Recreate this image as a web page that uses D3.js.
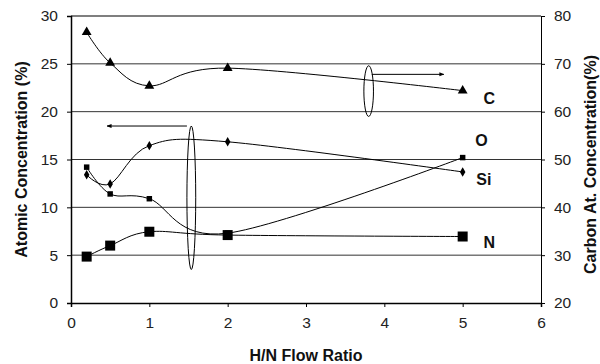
<!DOCTYPE html>
<html>
<head>
<meta charset="utf-8">
<title>H/N Flow Ratio</title>
<style>
  body { margin: 0; background: #fff; font-family: Arial, "Liberation Sans", sans-serif; }
  .tick text { font-size: 15.5px; fill: #222; font-family: Arial, "Liberation Sans", sans-serif; }
  .title { font-size: 16px; font-weight: bold; fill: #111; }
  .lbl { font-size: 16px; font-weight: bold; fill: #111; }
</style>
</head>
<body>
<svg id="chart" width="600" height="364"></svg>
<script src="https://d3js.org/d3.v7.min.js"></script>
<script>
// data
const ratios = [0.2, 0.5, 1, 2, 5];
const carbon = [76.6, 70.2, 65.4, 69.1, 64.4];   // right axis
const oxygen = [14.2, 11.4, 10.9, 7.3, 15.2];
const silicon = [13.4, 12.45, 16.45, 16.85, 13.7];
const nitrogen = [4.85, 6.0, 7.45, 7.1, 6.95];
const leftTicks = [0, 5, 10, 15, 20, 25, 30];
const rightTicks = [20, 30, 40, 50, 60, 70, 80];
const xTicks = [0, 1, 2, 3, 4, 5, 6];

const svg = d3.select("#chart");
const m = { left: 71, right: 541, top: 16, bottom: 303 };

const x = d3.scaleLinear().domain([0, 6]).range([m.left, m.right]);
const yL = d3.scaleLinear().domain([0, 30]).range([m.bottom, m.top]);
const yR = d3.scaleLinear().domain([20, 80]).range([m.bottom, m.top]);

// gridlines
svg.append("g").selectAll("line")
  .data(leftTicks.slice(1))
  .join("line")
  .attr("x1", m.left).attr("x2", m.right)
  .attr("y1", d => yL(d)).attr("y2", d => yL(d))
  .attr("stroke", d => d === 30 ? "#555" : "#333")
  .attr("stroke-width", d => d === 30 ? 1.5 : 1);

// axes
svg.append("g")
  .attr("transform", `translate(0,${m.bottom})`)
  .call(d3.axisBottom(x).tickValues(xTicks).tickFormat(d3.format("d")).tickSize(4).tickPadding(10))
  .call(g => g.select(".domain").attr("stroke", "#000").attr("stroke-width", 1.5));
svg.append("g")
  .attr("transform", `translate(${m.left},0)`)
  .call(d3.axisLeft(yL).tickValues(leftTicks).tickSize(4).tickPadding(9))
  .call(g => g.select(".domain").attr("stroke", "#000").attr("stroke-width", 1.5));
svg.append("g")
  .attr("transform", `translate(${m.right},0)`)
  .call(d3.axisRight(yR).tickValues(rightTicks).tickSize(4).tickPadding(9))
  .call(g => g.select(".domain").attr("stroke", "#000").attr("stroke-width", 1));
svg.selectAll(".tick line").attr("stroke", "#000");
svg.selectAll(".tick text").attr("fill", "#222");

// titles
svg.append("text").attr("class", "title")
  .attr("x", (m.left + m.right) / 2).attr("y", 361)
  .attr("text-anchor", "middle").text("H/N Flow Ratio");
svg.append("text").attr("class", "title")
  .attr("transform", `translate(27,${(m.top + m.bottom) / 2}) rotate(-90)`)
  .attr("text-anchor", "middle").text("Atomic Concentration (%)");
svg.append("text").attr("class", "title")
  .attr("transform", `translate(596,${(m.top + m.bottom) / 2 + 5}) rotate(-90)`)
  .attr("text-anchor", "middle").text("Carbon At. Concentration(%)");

// series
const series = [
  { vals: carbon, y: yR, sym: d3.symbolTriangle, size: 42 },
  { vals: oxygen, y: yL, sym: d3.symbolSquare, size: 30 },
  { vals: silicon, y: yL, sym: d3.symbolDiamond, size: 26 },
  { vals: nitrogen, y: yL, sym: d3.symbolSquare, size: 100 }
];

series.forEach(s => {
  const pts = ratios.map((r, i) => [x(r), s.y(s.vals[i])]);
  svg.append("path")
    .attr("d", d3.line().curve(d3.curveCardinal.tension(0))(pts))
    .attr("fill", "none").attr("stroke", "#000").attr("stroke-width", 1);
  svg.append("g").selectAll("path")
    .data(pts)
    .join("path")
    .attr("transform", d => `translate(${d[0]},${d[1]})`)
    .attr("d", d3.symbol().type(s.sym).size(s.size))
    .attr("fill", "#000");
});

// series labels
const labels = [
  { t: "C", x: 5.34, y: 21.4 },
  { t: "O", x: 5.24, y: 17.0 },
  { t: "Si", x: 5.27, y: 12.9 },
  { t: "N", x: 5.34, y: 6.3 }
];
svg.append("g").selectAll("text")
  .data(labels)
  .join("text")
  .attr("class", "lbl")
  .attr("x", d => x(d.x)).attr("y", d => yL(d.y))
  .attr("dy", "0.36em")
  .attr("text-anchor", "middle")
  .text(d => d.t);

// annotations: ellipses with arrows pointing to the axis they belong to
svg.append("defs").append("marker")
  .attr("id", "head").attr("viewBox", "0 0 10 10")
  .attr("refX", 9).attr("refY", 5)
  .attr("markerWidth", 5).attr("markerHeight", 5)
  .attr("orient", "auto")
  .append("path").attr("d", "M0,1L10,5L0,9Z").attr("fill", "#000");

svg.append("ellipse")
  .attr("cx", x(1.536)).attr("cy", yL(11.0))
  .attr("rx", 4.4).attr("ry", yL(3.5) - yL(11.0))
  .attr("fill", "none").attr("stroke", "#000").attr("stroke-width", 1);
svg.append("line")
  .attr("x1", x(1.48)).attr("x2", x(0.46))
  .attr("y1", yL(18.5)).attr("y2", yL(18.5))
  .attr("stroke", "#000").attr("stroke-width", 1)
  .attr("marker-end", "url(#head)");

svg.append("ellipse")
  .attr("cx", x(3.8)).attr("cy", yR(64.3))
  .attr("rx", 4.8).attr("ry", yR(59.0) - yR(64.3))
  .attr("fill", "none").attr("stroke", "#000").attr("stroke-width", 1);
svg.append("line")
  .attr("x1", x(3.84)).attr("x2", x(4.76))
  .attr("y1", yR(67.8)).attr("y2", yR(67.8))
  .attr("stroke", "#000").attr("stroke-width", 1)
  .attr("marker-end", "url(#head)");
</script>
</body>
</html>
